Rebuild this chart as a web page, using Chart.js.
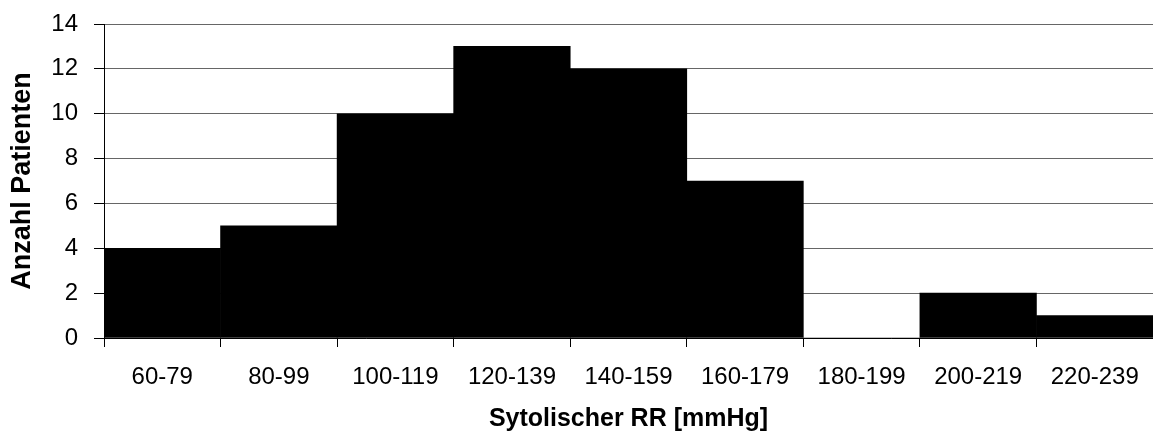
<!DOCTYPE html>
<html>
<head>
<meta charset="utf-8">
<script src="https://cdn.jsdelivr.net/npm/chart.js@4.4.1/dist/chart.umd.min.js"></script>
<style>
  html, body { margin: 0; padding: 0; background: #fff; }
  #wrap { width: 1153px; height: 434px; position: relative; }
</style>
</head>
<body>
<div id="wrap"><canvas id="rrChart"></canvas></div>
<script>
/* Histogram: systolic blood pressure */
const categories = ['60-79', '80-99', '100-119', '120-139', '140-159', '160-179', '180-199', '200-219', '220-239'];
const patientCounts = [4, 5, 10, 13, 12, 7, 0, 2, 1];
const yTicks = [0, 2, 4, 6, 8, 10, 12, 14];

const font = 'Liberation Sans, Arial, sans-serif';

const ctx = document.getElementById('rrChart').getContext('2d');
const chart = new Chart(ctx, {
  type: 'bar',
  data: {
    labels: categories,
    datasets: [{
      label: 'Anzahl Patienten',
      data: patientCounts,
      backgroundColor: '#000',
      borderWidth: 0,
      barPercentage: 1,
      categoryPercentage: 1
    }]
  },
  options: {
    responsive: true,
    maintainAspectRatio: false,
    animation: false,
    layout: { padding: { top: 24, right: 0, bottom: 0, left: 0 } },
    plugins: {
      legend: { display: false },
      tooltip: { enabled: false }
    },
    scales: {
      x: {
        afterFit: s => { s.height = 96; s.paddingLeft = 0; s.paddingRight = 0; },
        grid: {
          offset: true,
          drawOnChartArea: false,
          drawTicks: true,
          tickLength: 9,
          tickColor: '#000'
        },
        border: { display: true, color: '#000', width: 1 },
        ticks: {
          color: '#000',
          font: { family: font, size: 24 },
          padding: 16,
          maxRotation: 0,
          autoSkip: false
        },
        title: {
          display: true,
          text: 'Sytolischer RR [mmHg]',
          color: '#000',
          font: { family: font, size: 25, weight: 'bold' },
          padding: { top: 0, bottom: 0 }
        }
      },
      y: {
        min: 0,
        max: 14,
        afterFit: s => { s.width = 104; s.paddingTop = 0; s.paddingBottom = 0; },
        afterBuildTicks: s => { s.ticks = yTicks.map(v => ({ value: v })); },
        grid: {
          color: '#666',
          lineWidth: 1,
          drawTicks: true,
          tickLength: 10,
          tickColor: '#000'
        },
        border: { display: true, color: '#000', width: 1 },
        ticks: {
          color: '#000',
          font: { family: font, size: 24 },
          padding: 16
        },
        title: {
          display: true,
          text: 'Anzahl Patienten',
          color: '#000',
          font: { family: font, size: 27, weight: 'bold' },
          padding: { top: 6, bottom: 0 }
        }
      }
    }
  }
});
</script>
</body>
</html>
